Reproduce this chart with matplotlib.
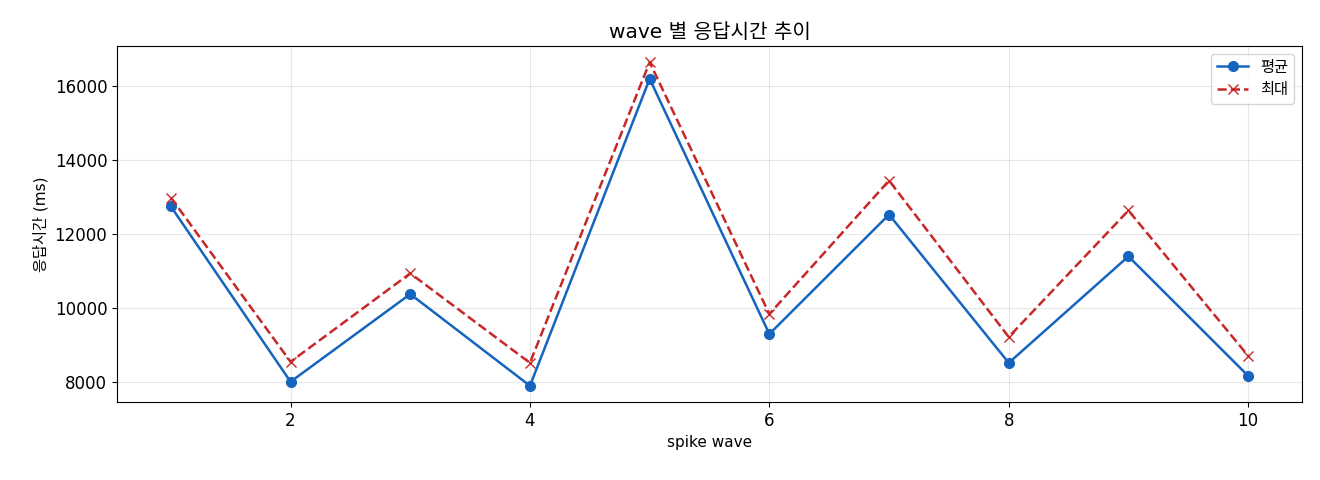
import matplotlib
matplotlib.use('Agg')
import matplotlib.pyplot as plt

plt.rcParams['font.family'] = ['DejaVu Sans', 'Noto Sans CJK KR']
plt.rcParams['axes.unicode_minus'] = False

# 데이터
waves = [1, 2, 3, 4, 5, 6, 7, 8, 9, 10]
avg_ms = [12740, 8000, 10370, 7890, 16190, 9290, 12520, 8510, 11390, 8160]
max_ms = [12980, 8540, 10930, 8510, 16640, 9830, 13440, 9210, 12630, 8700]

fig = plt.figure(figsize=(13.2, 4.8), dpi=100)
ax = fig.add_axes([117 / 1320, 78 / 480, 1185 / 1320, 356 / 480])

ax.plot(waves, avg_ms, 'o-', color='#1565C0', linewidth=1.8, markersize=7, label='평균')
ax.plot(waves, max_ms, 'x--', color='#C62828', linewidth=1.8, markersize=7, label='최대')

ax.set_title('wave 별 응답시간 추이', fontsize=14.5)
ax.set_xlabel('spike wave', fontsize=11)
ax.set_ylabel('응답시간 (ms)', fontsize=11)
ax.tick_params(labelsize=12)
ax.grid(True, alpha=0.3)
ax.legend(loc='upper right', fontsize=11)

plt.savefig('out.png', dpi=100, facecolor='white')
plt.close(fig)
